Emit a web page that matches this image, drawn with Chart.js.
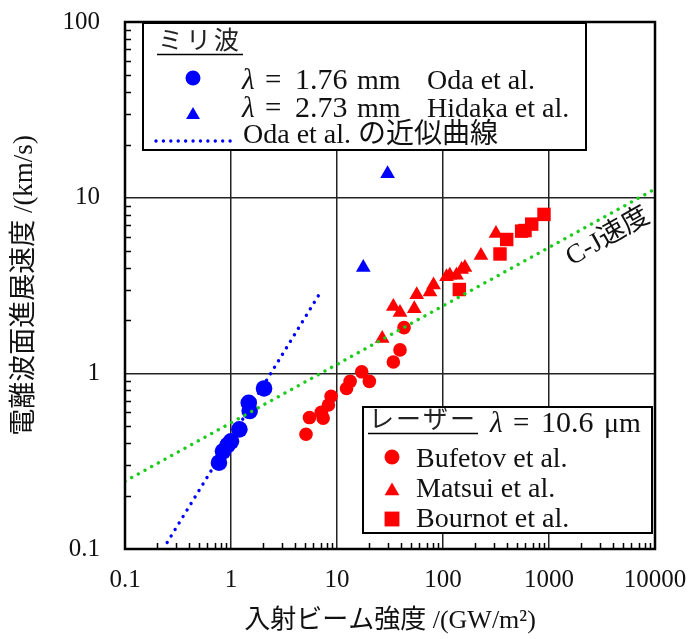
<!DOCTYPE html>
<html>
<head>
<meta charset="utf-8">
<script src="https://cdn.jsdelivr.net/npm/chart.js@4/dist/chart.umd.min.js"></script>
<style>
html,body{margin:0;padding:0;background:#fff;}
#wrap{width:692px;height:639px;}
</style>
</head>
<body>
<div id="wrap"><canvas id="c" width="692" height="639"></canvas></div>
<script>
// ---- data ----
const odaX = [0.77, 0.84, 0.93, 1.0, 1.2, 1.47, 1.5, 2.05];
const odaY = [0.31, 0.36, 0.39, 0.41, 0.48, 0.68, 0.61, 0.82];
const hidakaX = [17.7, 30];
const hidakaY = [4.0, 13.7];
const bufetovX = [5.1, 5.5, 7.1, 7.4, 8.3, 8.8, 12.3, 13.3, 17.1, 20.2, 34, 39.3, 42.9];
const bufetovY = [0.45, 0.56, 0.60, 0.556, 0.66, 0.74, 0.82, 0.90, 1.02, 0.90, 1.16, 1.36, 1.82];
const matsuiX = [26.7, 34, 39.3, 53.6, 56.5, 75.4, 81.4, 108, 116, 134, 150, 161, 228, 316];
const matsuiY = [1.58, 2.4, 2.22, 2.33, 2.8, 2.9, 3.18, 3.55, 3.62, 3.62, 3.9, 4.0, 4.68, 6.25];
const bournotX = [142.6, 345, 399, 552, 594, 687, 897];
const bournotY = [3.0, 4.78, 5.78, 6.45, 6.5, 7.07, 8.03];
const odaFitX = [0.25, 6.9];
const odaFitY = [0.109, 2.86];
const cjX = [0.1, 10000];
const cjY = [0.243, 11.2];
const xTickValues = [0.1, 1, 10, 100, 1000, 10000];
const xTickLabels = ['0.1', '1', '10', '100', '1000', '10000'];
const yTickValues = [0.1, 1, 10, 100];
const yTickLabels = ['0.1', '1', '10', '100'];
const minorMult = [2, 3, 4, 5, 6, 7, 8, 9];
const xTitle = '入射ビーム強度 /(GW/m²)';
const yTitle = '電離波面進展速度 /(km/s)';
const legend1Title = 'ミリ波';
const legend1Rows = [
  {lam: '1.76', unit: 'mm', who: 'Oda et al.'},
  {lam: '2.73', unit: 'mm', who: 'Hidaka et al.'}
];
const legend1Fit = 'Oda et al. の近似曲線';
const legend2Title = 'レーザー';
const legend2Lambda = {lam: '10.6', unit: 'μm'};
const legend2Rows = ['Bufetov et al.', 'Matsui et al.', 'Bournot et al.'];
const cjLabel = 'C-J速度';

// ---- helpers ----
const pts = (xs, ys) => xs.map((x, i) => ({x: x, y: ys[i]}));
const BLUE = '#0000ff', RED = '#ff0000', GREEN = '#1ccc1c';
const SERIF = "'Liberation Serif', 'Times New Roman', serif";
const MIXED = "'Liberation Serif', 'Noto Sans CJK JP', serif";
const CJK = "'Noto Sans CJK JP', sans-serif";

function minorValues(lo, hi) {
  const out = [];
  for (let d = lo; d < hi * 0.999; d *= 10) minorMult.forEach(m => out.push(+(d * m).toPrecision(6)));
  return out;
}

function marker(ctx, style, x, y, r, color) {
  ctx.save();
  ctx.fillStyle = color;
  ctx.beginPath();
  if (style === 'circle') {
    ctx.arc(x, y, r, 0, Math.PI * 2);
  } else if (style === 'triangle') {
    ctx.moveTo(x, y - r);
    ctx.lineTo(x + r * 0.866, y + r * 0.5);
    ctx.lineTo(x - r * 0.866, y + r * 0.5);
    ctx.closePath();
  } else {
    const s = r * Math.SQRT1_2;
    ctx.rect(x - s, y - s, 2 * s, 2 * s);
  }
  ctx.fill();
  ctx.restore();
}

function lambdaLine(ctx, xL, xEq, xNum, xUnit, base, lam, unit) {
  ctx.font = 'italic 29px ' + SERIF;
  ctx.fillText('λ', xL, base);
  ctx.font = '29px ' + SERIF;
  ctx.fillText('=', xEq, base);
  ctx.font = '30px ' + SERIF;
  ctx.fillText(lam, xNum, base);
  ctx.font = '28px ' + SERIF;
  ctx.fillText(unit, xUnit, base);
}

const decor = {
  id: 'decor',
  afterDatasetsDraw(chart) {
    const {ctx, chartArea: a, scales: {x, y}} = chart;
    ctx.save();
    ctx.strokeStyle = '#000';
    ctx.lineWidth = 1.5;
    ctx.beginPath();
    minorValues(0.1, 10000).forEach(v => {
      const px = Math.round(x.getPixelForValue(v)) + 0.5;
      ctx.moveTo(px, a.bottom); ctx.lineTo(px, a.bottom - 6);
    });
    minorValues(0.1, 100).forEach(v => {
      const py = Math.round(y.getPixelForValue(v)) + 0.5;
      ctx.moveTo(a.left, py); ctx.lineTo(a.left + 6, py);
    });
    ctx.stroke();

    // C-J label
    ctx.save();
    ctx.translate(608, 237);
    ctx.rotate(-29.5 * Math.PI / 180);
    ctx.fillStyle = '#111';
    ctx.font = '27px ' + MIXED;
    ctx.textAlign = 'center';
    ctx.textBaseline = 'middle';
    ctx.fillText(cjLabel, 0, 0);
    ctx.restore();

    // legend 1
    ctx.fillStyle = '#fff';
    ctx.fillRect(143, 23, 443, 127);
    ctx.lineWidth = 2;
    ctx.strokeStyle = '#000';
    ctx.strokeRect(143, 23, 443, 127);
    ctx.fillStyle = '#222';
    ctx.textBaseline = 'alphabetic';
    ctx.font = '25px ' + CJK;
    ctx.letterSpacing = '3px';
    ctx.fillText(legend1Title, 158, 49);
    ctx.letterSpacing = '0px';
    ctx.lineWidth = 1.3;
    ctx.beginPath(); ctx.moveTo(157, 54.5); ctx.lineTo(243, 54.5); ctx.stroke();
    marker(ctx, 'circle', 193, 78, 7.5, BLUE);
    marker(ctx, 'triangle', 193, 115, 8, BLUE);
    ctx.fillStyle = '#111';
    lambdaLine(ctx, 242, 265, 295, 357, 89, legend1Rows[0].lam, legend1Rows[0].unit);
    lambdaLine(ctx, 242, 265, 295, 357, 117, legend1Rows[1].lam, legend1Rows[1].unit);
    ctx.font = '28px ' + SERIF;
    ctx.fillText(legend1Rows[0].who, 427, 89);
    ctx.fillText(legend1Rows[1].who, 427, 117);
    ctx.save();
    ctx.strokeStyle = BLUE; ctx.lineWidth = 3.4; ctx.lineCap = 'round';
    ctx.setLineDash([0.01, 7.4]);
    ctx.beginPath(); ctx.moveTo(156, 141); ctx.lineTo(231, 141); ctx.stroke();
    ctx.restore();
    ctx.font = '28px ' + MIXED;
    ctx.fillText(legend1Fit, 243, 143);

    // legend 2
    ctx.fillStyle = '#fff';
    ctx.fillRect(363, 407, 289, 126);
    ctx.lineWidth = 2;
    ctx.strokeStyle = '#000';
    ctx.strokeRect(363, 407, 289, 126);
    ctx.fillStyle = '#222';
    ctx.font = '25px ' + CJK;
    ctx.letterSpacing = '2px';
    ctx.fillText(legend2Title, 369, 428);
    ctx.letterSpacing = '0px';
    ctx.lineWidth = 1.3;
    ctx.beginPath(); ctx.moveTo(368, 433.5); ctx.lineTo(478, 433.5); ctx.stroke();
    ctx.fillStyle = '#111';
    lambdaLine(ctx, 490, 513, 541, 604, 432, legend2Lambda.lam, legend2Lambda.unit);
    marker(ctx, 'circle', 392, 457, 7.5, RED);
    marker(ctx, 'triangle', 392, 491, 8.5, RED);
    marker(ctx, 'rect', 392, 519, 10.5, RED);
    ctx.fillStyle = '#111';
    ctx.font = '28px ' + SERIF;
    ctx.fillText(legend2Rows[0], 416, 467);
    ctx.fillText(legend2Rows[1], 416, 497);
    ctx.fillText(legend2Rows[2], 416, 527);

    // frame
    ctx.lineWidth = 2.5;
    ctx.strokeStyle = '#000';
    ctx.strokeRect(a.left, a.top, a.right - a.left, a.bottom - a.top);
    ctx.restore();
  }
};

const gridOpts = {color: '#222', lineWidth: 1.5, drawTicks: false};

new Chart(document.getElementById('c'), {
  type: 'scatter',
  data: {
    datasets: [
      {label: 'C-J速度', data: pts(cjX, cjY), showLine: true, pointRadius: 0, borderColor: GREEN,
       borderWidth: 3.4, borderDash: [0.01, 7.6], borderCapStyle: 'round', order: 0},
      {label: 'Oda et al.', data: pts(odaX, odaY), pointStyle: 'circle', pointRadius: 8.3,
       backgroundColor: BLUE, borderWidth: 0, order: 1},
      {label: 'Hidaka et al.', data: pts(hidakaX, hidakaY), pointStyle: 'triangle', pointRadius: 8.5,
       backgroundColor: BLUE, borderWidth: 0, order: 2},
      {label: 'Bufetov et al.', data: pts(bufetovX, bufetovY), pointStyle: 'circle', pointRadius: 6.8,
       backgroundColor: RED, borderWidth: 0, order: 3},
      {label: 'Matsui et al.', data: pts(matsuiX, matsuiY), pointStyle: 'triangle', pointRadius: 8.5,
       backgroundColor: RED, borderWidth: 0, order: 4},
      {label: 'Bournot et al.', data: pts(bournotX, bournotY), pointStyle: 'rect', pointRadius: 9.5,
       backgroundColor: RED, borderWidth: 0, order: 5},
      {label: 'Oda et al. の近似曲線', data: pts(odaFitX, odaFitY), showLine: true, pointRadius: 0,
       borderColor: BLUE, borderWidth: 3.4, borderDash: [0.01, 7.6], borderCapStyle: 'round', order: 9}
    ]
  },
  options: {
    responsive: false,
    animation: false,
    devicePixelRatio: 1,
    layout: {padding: {top: 22, right: 37, left: 0, bottom: 0}},
    plugins: {legend: {display: false}, tooltip: {enabled: false}},
    scales: {
      x: {
        type: 'logarithmic', min: 0.1, max: 10000,
        afterFit(s) { s.height = 90; s.paddingLeft = 0; s.paddingRight = 0; s.paddingTop = 0; s.paddingBottom = 0; },
        afterBuildTicks(s) { s.ticks = xTickValues.map(v => ({value: v})); },
        grid: gridOpts,
        border: {display: false},
        ticks: {
          autoSkip: false, maxRotation: 0, padding: 16, color: '#111',
          font: {family: SERIF, size: 25},
          callback: (v, i) => xTickLabels[i]
        },
        title: {display: true, text: xTitle, color: '#111', font: {family: MIXED, size: 26},
                padding: {top: 0, bottom: 2}}
      },
      y: {
        type: 'logarithmic', min: 0.1, max: 100,
        afterFit(s) { s.width = 125; s.paddingLeft = 0; s.paddingRight = 0; s.paddingTop = 0; s.paddingBottom = 0; },
        afterBuildTicks(s) { s.ticks = yTickValues.map(v => ({value: v})); },
        grid: gridOpts,
        border: {display: false},
        ticks: {
          autoSkip: false, padding: 25, color: '#111',
          font: {family: SERIF, size: 25},
          callback: (v, i) => yTickLabels[i]
        },
        title: {display: true, text: yTitle, color: '#111', font: {family: MIXED, size: 27},
                padding: {top: 9, bottom: 0}}
      }
    }
  },
  plugins: [decor]
});
</script>
</body>
</html>
